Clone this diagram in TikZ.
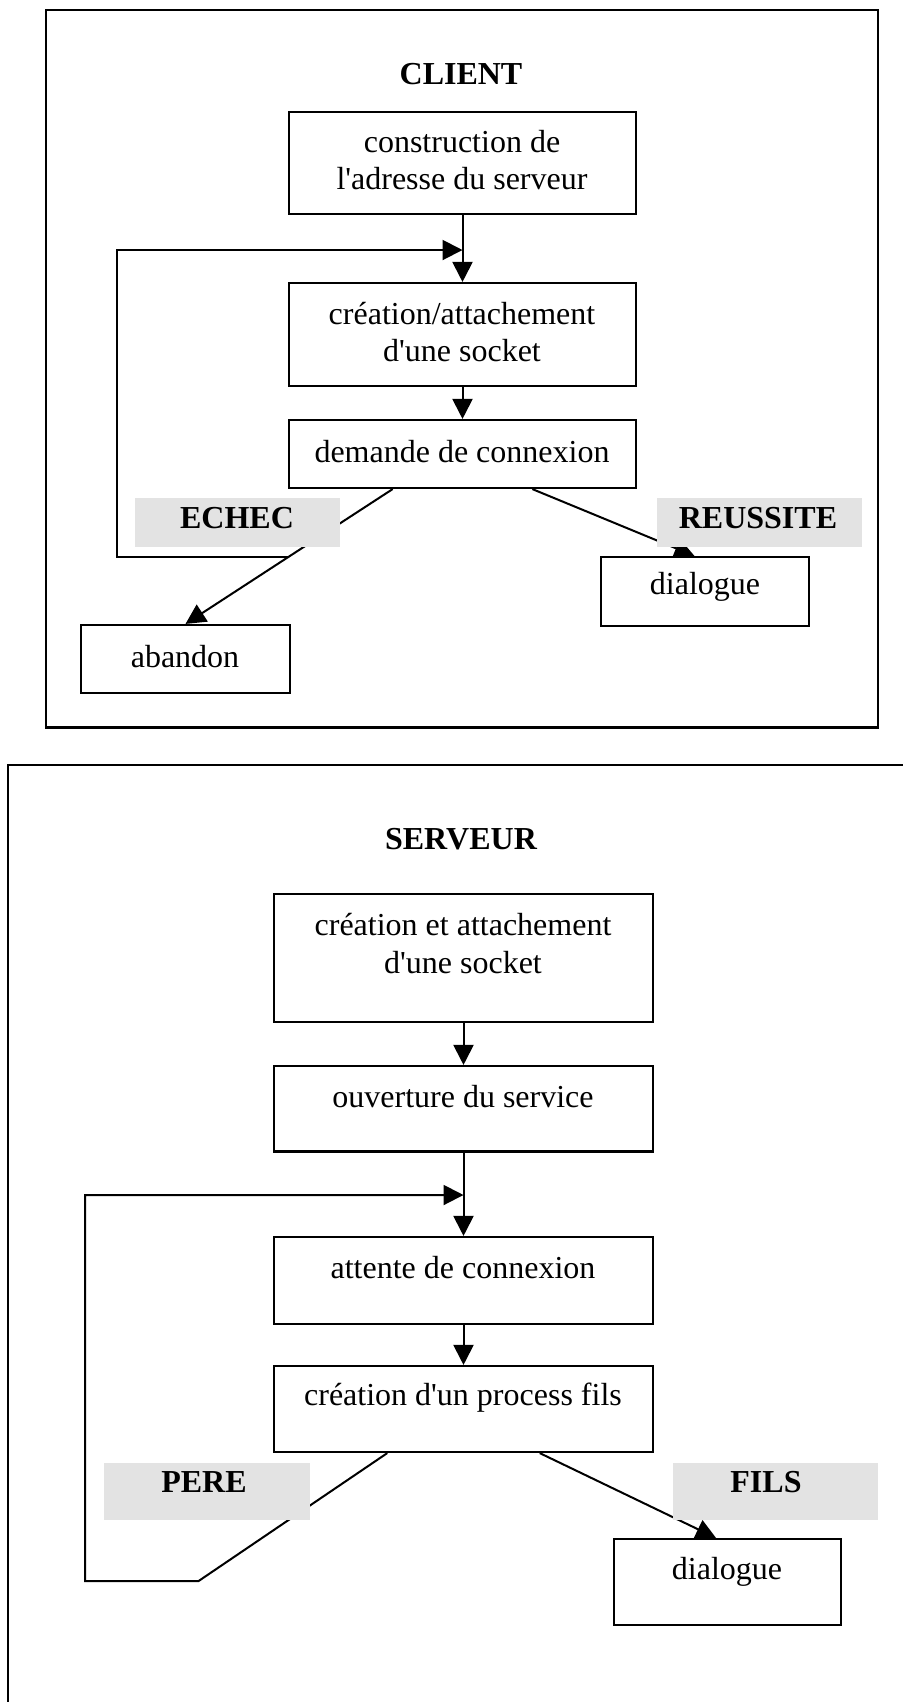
\documentclass[tikz,border=0pt]{standalone}
\usepackage{fontspec}
\setmainfont{Liberation Serif}[Ligatures=TeXOff]
\usetikzlibrary{arrows.meta,fit,calc}

\begin{document}
\begin{tikzpicture}[x=0.375pt,y=-0.375pt,
  box/.style={draw, line width=0.8pt, inner sep=0pt},
  txt/.style={font=\fontsize{12}{13.9}\selectfont, align=center, inner sep=0pt},
  ttl/.style={font=\fontsize{12}{14}\selectfont\bfseries, inner sep=0pt},
  tag/.style={fill=black!11, inner sep=0pt},
  conn/.style={line width=0.75pt},
  arr/.style={conn, -{Triangle[length=7.5pt,width=7.5pt]}},
  panel/.style={line width=0.8pt}]
\useasboundingbox (0,0) rectangle (903,1702);
\clip (0,0) rectangle (903,1702);

% ---------------- client panel ----------------
\draw[panel] (45.6,9.8) rectangle (878,727.5);
\node[ttl] (ctitle) at (461,74) {CLIENT};

\node[box, fit={(289,112)(636,214)}] (cb1) {};
\node[txt] (cb1t) at (462,160) {construction de\\l'adresse du serveur};
\node[box, fit={(289,283)(636,386)}] (cb2) {};
\node[txt] (cb2t) at (462,332) {création/attachement\\d'une socket};
\node[box, fit={(289,420)(636,488)}] (cb3) {};
\node[txt] (cb3t) at (462,452) {demande de connexion};
\node[box, fit={(81,625)(290,693)}] (cab) {};
\node[txt] (cabt) at (185,657) {abandon};
\node[box, fit={(601,557)(809,626)}] (cdl) {};
\node[txt] (cdlt) at (705,587) {dialogue};

\coordinate (cj) at (cb1.south |- 0,250);
\coordinate (cfail) at ($(cb3.south west)!0.3!(cb3.south east)$);
\coordinate (cok) at ($(cb3.south west)!0.7!(cb3.south east)$);
\coordinate (ce) at ($(cfail)!0.5!(cab.north)$);

\draw[arr] (cb1.south) -- (cb2.north);
\draw[arr] (cb2.south) -- (cb3.north);
\draw[arr] (cfail) -- (cab.north);
\draw[arr] (cok) -- ($(cdl.north west)!0.45!(cdl.north east)$);
\draw[arr] (ce) -- (116.8,0 |- ce) -- (116.8,250) -- (cj);

\node[tag, fit={(135,498)(340,547)}] (cechec) {};
\node[ttl] (cechect) at (237,518) {ECHEC};
\node[tag, fit={(657,498)(862,547)}] (creuss) {};
\node[ttl] (creusst) at (758,518) {REUSSITE};

% ---------------- server panel ----------------
\draw[panel] (8,765) rectangle (960,1760);
\node[ttl] (stitle) at (461,839) {SERVEUR};

\node[box, fit={(274,894)(653,1022)}] (sa) {};
\node[txt] (sat) at (463,943.5) {création et attachement\\d'une socket};
\node[box, fit={(274,1066)(653,1151.5)}] (sb) {};
\node[txt] (sbt) at (463,1097) {ouverture du service};
\node[box, fit={(274,1237)(653,1324)}] (sc) {};
\node[txt] (sct) at (463,1268) {attente de connexion};
\node[box, fit={(274,1366)(653,1452)}] (sd) {};
\node[txt] (sdt) at (463,1398) {création d'un process fils};
\node[box, fit={(614,1539)(841,1625)}] (sdl) {};
\node[txt] (sdlt) at (727,1572) {dialogue};

\coordinate (sj) at (sb.south |- 0,1195);
\coordinate (spere) at ($(sd.south west)!0.3!(sd.south east)$);
\coordinate (sfils) at ($(sd.south west)!0.7!(sd.south east)$);
\coordinate (sbend) at (198.6,1581);

\draw[arr] (sa.south) -- (sb.north);
\draw[arr] (sb.south) -- (sc.north);
\draw[arr] (sc.south) -- (sd.north);
\draw[arr] (sfils) -- ($(sdl.north west)!0.45!(sdl.north east)$);
\draw[arr] (spere) -- (sbend) -- (85,1581) -- (85,1195) -- (sj);

\node[tag, fit={(103.6,1463)(310,1520)}] (spr) {};
\node[ttl] (sprt) at (204,1482.5) {PERE};
\node[tag, fit={(673,1463)(878,1520)}] (sfl) {};
\node[ttl] (sflt) at (766,1482.5) {FILS};
\end{tikzpicture}
\end{document}
